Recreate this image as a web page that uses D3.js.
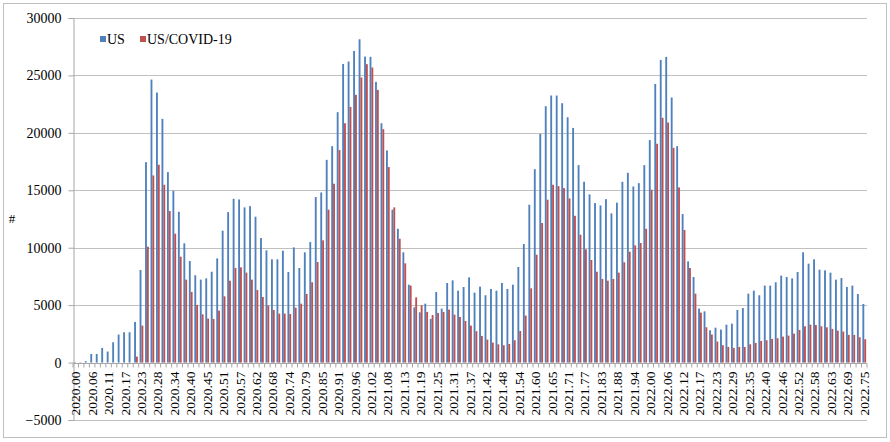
<!DOCTYPE html>
<html>
<head>
<meta charset="utf-8">
<script src="https://cdn.jsdelivr.net/npm/d3@7"></script>
<style>
  body { margin: 0; background: #fff; }
  svg text { font-family: "Liberation Serif", "Times New Roman", serif; fill: #000; }
</style>
</head>
<body>
<svg id="chart" width="890" height="442"></svg>
<script>
//Weekly values, US and US/COVID-19 (null = no value)
var usWeekly = [-50, 30, 120, 750, 750, 1280, 960, 1770, 2440, 2640,
  2640, 3540, 8060, 17450, 24640, 23510, 21220, 16580, 14960, 13130,
  10380, 8840, 7600, 7220, 7330, 7910, 9070, 11480, 13100, 14260,
  14200, 13510, 13620, 12700, 10840, 9770, 8990, 8990, 9740, 7890,
  10030, 8230, 9600, 10490, 14410, 14810, 17650, 18840, 21800, 26000,
  26210, 27130, 28150, 26640, 26620, 24440, 20840, 18470, 13310, 11650,
  9600, 6780, 4810, 4380, 5130, 3800, 6150, 4700, 6930, 7160,
  6260, 6580, 7420, 6090, 6610, 5860, 6410, 6260, 6930, 6410,
  6780, 8320, 10320, 13740, 16840, 19910, 22320, 23250, 23250, 22580,
  21360, 20430, 17190, 15740, 14640, 13890, 13680, 14230, 12990, 13920,
  15740, 16520, 15330, 15620, 17190, 19370, 24260, 26350, 26610, 23080,
  18840, 12930, 8810, 7450, 4700, 4460, 2810, 3040, 2870, 3300,
  3390, 4580, 4750, 6000, 6260, 5860, 6700, 6700, 6990, 7570,
  7450, 7330, 7890, 9600, 8610, 8990, 8090, 8030, 7830, 7220,
  7360, 6580, 6700, 5970, 5100];

var covidWeekly = [null, null, null, null, null, null, null, null, null, null,
  null, 520, 3220, 10090, 16290, 17220, 15480, 13190, 11220, 9220,
  7220, 6150, 5020, 4200, 3830, 3800, 4520, 5770, 7130, 8230,
  8290, 7830, 7220, 6320, 5710, 4960, 4580, 4260, 4260, 4230,
  4780, 5130, 5970, 6990, 8750, 10640, 13310, 15570, 18500, 20840,
  22260, 23310, 24820, 25980, 25690, 23740, 20320, 17020, 13510, 10780,
  8640, 6700, 5680, 4990, 4410, 4140, 4320, 4410, 4610, 4170,
  3970, 3620, 3220, 2730, 2320, 2000, 1740, 1590, 1510, 1620,
  1940, 2750, 4090, 6460, 9390, 12150, 14180, 15480, 15360, 15190,
  14290, 12780, 11130, 9860, 8930, 7910, 7280, 7130, 7280, 7830,
  8730, 9650, 10200, 10410, 11650, 15050, 19050, 21310, 20900, 18700,
  15250, 11540, 8230, 6000, 4350, 3070, 2440, 1830, 1510, 1360,
  1280, 1360, 1360, 1590, 1710, 1880, 1940, 2060, 2120, 2260,
  2350, 2520, 2840, 3160, 3300, 3270, 3160, 3070, 2930, 2780,
  2700, 2410, 2410, 2200, 2030];

//Category labels shown on the axis (every 3rd week)
var tickLabels = ["2020.00", "2020.06", "2020.11", "2020.17", "2020.23", "2020.28",
  "2020.34", "2020.40", "2020.45", "2020.51", "2020.57", "2020.62", "2020.68",
  "2020.74", "2020.79", "2020.85", "2020.91", "2020.96", "2021.02", "2021.08",
  "2021.13", "2021.19", "2021.25", "2021.31", "2021.37", "2021.42", "2021.48",
  "2021.54", "2021.60", "2021.65", "2021.71", "2021.77", "2021.83", "2021.88",
  "2021.94", "2022.00", "2022.06", "2022.12", "2022.17", "2022.23", "2022.29",
  "2022.35", "2022.40", "2022.46", "2022.52", "2022.58", "2022.63", "2022.69",
  "2022.75"];

var yTicks = [-5000, 0, 5000, 10000, 15000, 20000, 25000, 30000];

var seriesNames = ["US", "US/COVID-19"];
var seriesColors = ["#4F81BD", "#C0504D"];

//Layout
var plotLeft = 73, plotRight = 867, plotTop = 18, plotBottom = 420;
var svg = d3.select("#chart");

//Chart border
svg.append("rect")
  .attr("x", 3.5).attr("y", 3.5)
  .attr("width", 883).attr("height", 434)
  .attr("fill", "#fff")
  .attr("stroke", "#BFBFBF");

var idx = d3.range(usWeekly.length);

//Scales
var x = d3.scaleBand().domain(idx).range([plotLeft, plotRight]).paddingInner(0.32).paddingOuter(0.16);
var xFull = d3.scaleBand().domain(idx).range([plotLeft, plotRight]);
var xSub = d3.scaleBand().domain([0, 1]).range([0, x.bandwidth()]);
var y = d3.scaleLinear().domain([-5000, 30000]).range([plotBottom, plotTop]);

//Gridlines
svg.append("g")
  .selectAll("line")
  .data(yTicks)
  .join("line")
  .attr("x1", plotLeft).attr("x2", plotRight)
  .attr("y1", (d) => Math.round(y(d)) + 0.5)
  .attr("y2", (d) => Math.round(y(d)) + 0.5)
  .attr("stroke", "#C0C0C0")
  .attr("stroke-width", 1.2);

//Y axis
var yAxis = svg.append("g")
  .attr("transform", "translate(" + (plotLeft + 0.5) + ",0)")
  .call(d3.axisLeft(y).tickValues(yTicks).tickSize(5).tickPadding(7).tickFormat(d3.format("d")));
yAxis.select(".domain").attr("stroke", "#A6A6A6");
yAxis.selectAll(".tick line").attr("stroke", "#A6A6A6");
yAxis.selectAll(".tick text")
  .attr("font-size", "14px")
  .attr("font-family", "Liberation Serif, serif");

//Y axis title
svg.append("text")
  .attr("x", 12).attr("y", 223)
  .attr("text-anchor", "middle")
  .attr("font-size", "13px")
  .attr("font-family", "DejaVu Sans, sans-serif")
  .text("#");

//Bars
var series = [usWeekly, covidWeekly];
series.forEach(function (vals, s) {
  svg.append("g")
    .selectAll("rect")
    .data(idx.filter((i) => vals[i] !== null))
    .join("rect")
    .attr("x", (i) => x(i) + xSub(s))
    .attr("width", xSub.bandwidth())
    .attr("y", (i) => y(Math.max(0, vals[i])))
    .attr("height", (i) => Math.abs(y(vals[i]) - y(0)))
    .attr("fill", seriesColors[s]);
});

//X axis at zero with a tick at every category
var y0 = Math.round(y(0)) + 0.5;
svg.append("line")
  .attr("x1", plotLeft).attr("x2", plotRight)
  .attr("y1", y0).attr("y2", y0)
  .attr("stroke", "#A6A6A6");
svg.append("g")
  .selectAll("line")
  .data(idx.concat([usWeekly.length]))
  .join("line")
  .attr("x1", (i) => (i < usWeekly.length ? xFull(i) : plotRight))
  .attr("x2", (i) => (i < usWeekly.length ? xFull(i) : plotRight))
  .attr("y1", y0).attr("y2", y0 + 4)
  .attr("stroke", "#A6A6A6");

//Category labels, rotated
svg.append("g")
  .selectAll("text")
  .data(tickLabels)
  .join("text")
  .attr("transform", (d, k) => "translate(" + (xFull(k * 3) + xFull.bandwidth() / 2 + 4.5) + "," + (y0 + 8) + ") rotate(-90)")
  .attr("text-anchor", "end")
  .attr("font-size", "13.5px")
  .text((d) => d);

//Legend
var legend = svg.append("g").attr("transform", "translate(100,36)");
var legendX = [0, 40];
seriesNames.forEach(function (name, s) {
  legend.append("rect")
    .attr("x", legendX[s]).attr("y", 0)
    .attr("width", 6).attr("height", 6)
    .attr("fill", seriesColors[s]);
  legend.append("text")
    .attr("x", legendX[s] + 7).attr("y", 8)
    .attr("font-size", "14px")
    .text(name);
});
</script>
</body>
</html>
